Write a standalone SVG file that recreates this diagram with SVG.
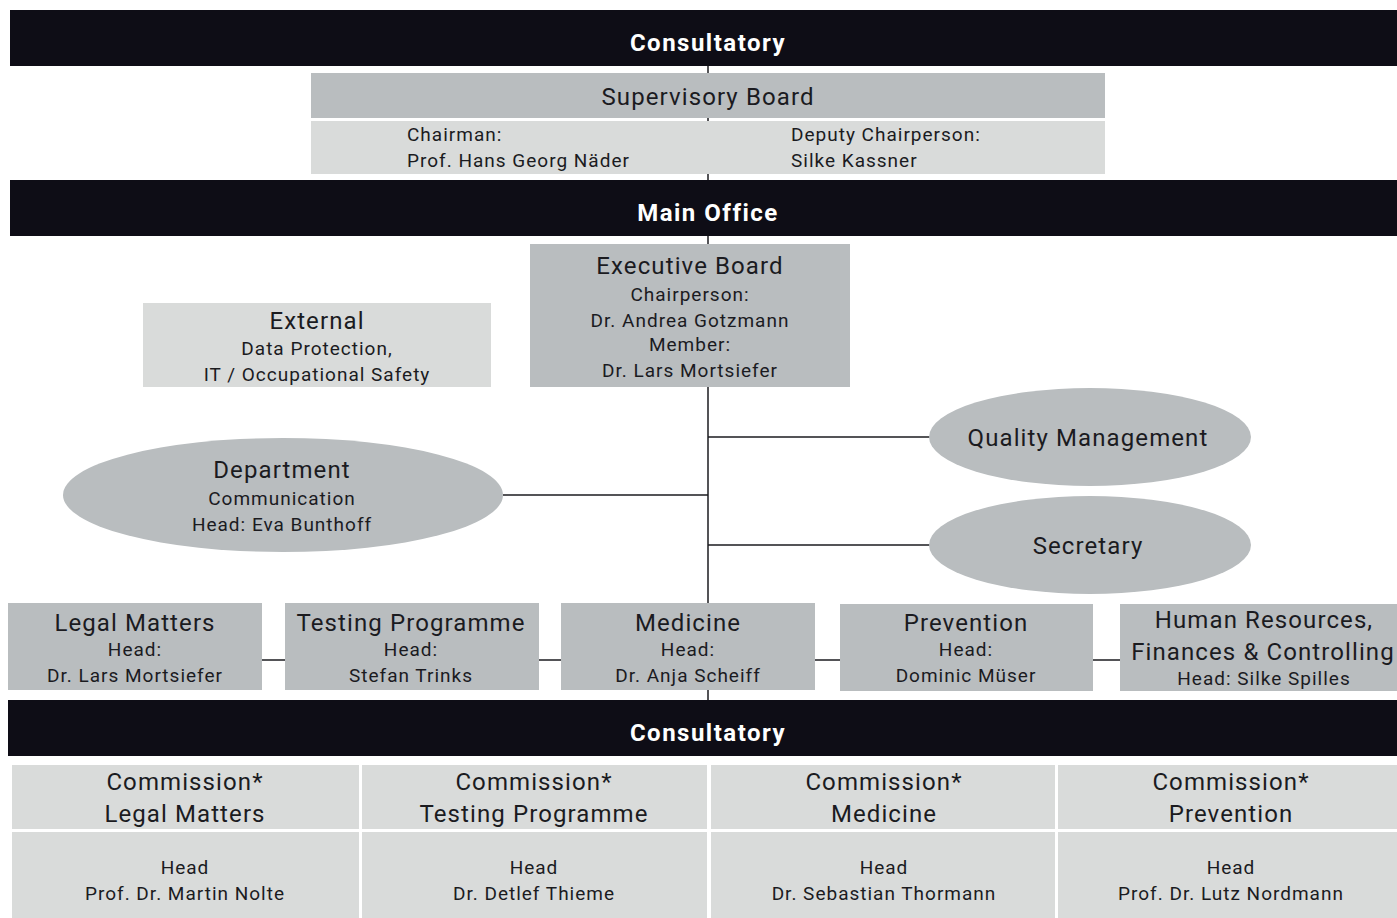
<svg xmlns="http://www.w3.org/2000/svg" width="1397" height="918" viewBox="0 0 1397 918">
<style>
text{font-family:Roboto,"Liberation Sans",sans-serif;fill:#1b1b1f;text-anchor:middle;font-weight:400}
.bar{fill:#0e0d16}
.bt{fill:#ffffff;font-weight:700;font-size:24px;letter-spacing:1.5px}
.mid{fill:#b9bdbf}
.lt{fill:#d9dbda}
.t1{font-size:24px;letter-spacing:1.1px}
.t2{font-size:19px;letter-spacing:1px}
.l{text-anchor:start}
.c{stroke:#1b1b1f;stroke-width:1.5;fill:none}
</style>
<g id="connectors">
<line class="c" x1="708" y1="66" x2="708" y2="700"/>
<line class="c" x1="503" y1="495" x2="708" y2="495"/>
<line class="c" x1="708" y1="437" x2="930" y2="437"/>
<line class="c" x1="708" y1="545" x2="930" y2="545"/>
<line class="c" x1="262" y1="660" x2="285" y2="660"/>
<line class="c" x1="539" y1="660" x2="561" y2="660"/>
<line class="c" x1="815" y1="660" x2="840" y2="660"/>
<line class="c" x1="1093" y1="660" x2="1120" y2="660"/>
</g>
<g id="bar-consultatory-top">
<rect class="bar" x="10" y="10" width="1387" height="56"/>
<text class="bt" x="708" y="51">Consultatory</text>
</g>
<g id="supervisory-board">
<rect class="mid" x="311" y="73" width="794" height="45"/>
<text class="t1" x="708" y="105">Supervisory Board</text>
<rect class="lt" x="311" y="121" width="794" height="53"/>
<text class="t2 l" x="407" y="141">Chairman:</text>
<text class="t2 l" x="407" y="167">Prof. Hans Georg Näder</text>
<text class="t2 l" x="791" y="141">Deputy Chairperson:</text>
<text class="t2 l" x="791" y="167">Silke Kassner</text>
</g>
<g id="bar-main-office">
<rect class="bar" x="10" y="180" width="1387" height="56"/>
<text class="bt" x="708" y="221">Main Office</text>
</g>
<g id="executive-board">
<rect class="mid" x="530" y="244" width="320" height="143"/>
<text class="t1" x="690" y="274">Executive Board</text>
<text class="t2" x="690" y="301">Chairperson:</text>
<text class="t2" x="690" y="327">Dr. Andrea Gotzmann</text>
<text class="t2" x="690" y="351">Member:</text>
<text class="t2" x="690" y="377">Dr. Lars Mortsiefer</text>
</g>
<g id="external">
<rect class="lt" x="143" y="303" width="348" height="84"/>
<text class="t1" x="317" y="329">External</text>
<text class="t2" x="317" y="355">Data Protection,</text>
<text class="t2" x="317" y="381">IT / Occupational Safety</text>
</g>
<g id="department-communication">
<ellipse class="mid" cx="283" cy="495" rx="220" ry="57"/>
<text class="t1" x="282" y="478">Department</text>
<text class="t2" x="282" y="505">Communication</text>
<text class="t2" x="282" y="531">Head: Eva Bunthoff</text>
</g>
<g id="quality-management">
<ellipse class="mid" cx="1090" cy="437" rx="161" ry="49"/>
<text class="t1" x="1088" y="446">Quality Management</text>
</g>
<g id="secretary">
<ellipse class="mid" cx="1090" cy="545" rx="161" ry="49"/>
<text class="t1" x="1088" y="554">Secretary</text>
</g>
<g id="legal-matters">
<rect class="mid" x="8" y="603" width="254" height="87"/>
<text class="t1" x="135" y="631">Legal Matters</text>
<text class="t2" x="135" y="656">Head:</text>
<text class="t2" x="135" y="682">Dr. Lars Mortsiefer</text>
</g>
<g id="testing-programme">
<rect class="mid" x="285" y="603" width="254" height="87"/>
<text class="t1" x="411" y="631">Testing Programme</text>
<text class="t2" x="411" y="656">Head:</text>
<text class="t2" x="411" y="682">Stefan Trinks</text>
</g>
<g id="medicine">
<rect class="mid" x="561" y="603" width="254" height="87"/>
<text class="t1" x="688" y="631">Medicine</text>
<text class="t2" x="688" y="656">Head:</text>
<text class="t2" x="688" y="682">Dr. Anja Scheiff</text>
</g>
<g id="prevention">
<rect class="mid" x="840" y="604" width="253" height="87"/>
<text class="t1" x="966" y="631">Prevention</text>
<text class="t2" x="966" y="656">Head:</text>
<text class="t2" x="966" y="682">Dominic Müser</text>
</g>
<g id="human-resources">
<rect class="mid" x="1120" y="604" width="277" height="87"/>
<text class="t1" x="1264" y="628">Human Resources,</text>
<text class="t1" x="1263" y="660">Finances &amp; Controlling</text>
<text class="t2" x="1264" y="685">Head: Silke Spilles</text>
</g>
<g id="bar-consultatory-bottom">
<rect class="bar" x="8" y="700" width="1389" height="56"/>
<text class="bt" x="708" y="741">Consultatory</text>
</g>
<g id="commission-legal">
<rect class="lt" x="12" y="765" width="347" height="64"/>
<text class="t1" x="185" y="790">Commission*</text>
<text class="t1" x="185" y="822">Legal Matters</text>
<rect class="lt" x="12" y="832" width="347" height="86"/>
<text class="t2" x="185" y="874">Head</text>
<text class="t2" x="185" y="900">Prof. Dr. Martin Nolte</text>
</g>
<g id="commission-testing">
<rect class="lt" x="362" y="765" width="345" height="64"/>
<text class="t1" x="534" y="790">Commission*</text>
<text class="t1" x="534" y="822">Testing Programme</text>
<rect class="lt" x="362" y="832" width="345" height="86"/>
<text class="t2" x="534" y="874">Head</text>
<text class="t2" x="534" y="900">Dr. Detlef Thieme</text>
</g>
<g id="commission-medicine">
<rect class="lt" x="711" y="765" width="344" height="64"/>
<text class="t1" x="884" y="790">Commission*</text>
<text class="t1" x="884" y="822">Medicine</text>
<rect class="lt" x="711" y="832" width="344" height="86"/>
<text class="t2" x="884" y="874">Head</text>
<text class="t2" x="884" y="900">Dr. Sebastian Thormann</text>
</g>
<g id="commission-prevention">
<rect class="lt" x="1058" y="765" width="339" height="64"/>
<text class="t1" x="1231" y="790">Commission*</text>
<text class="t1" x="1231" y="822">Prevention</text>
<rect class="lt" x="1058" y="832" width="339" height="86"/>
<text class="t2" x="1231" y="874">Head</text>
<text class="t2" x="1231" y="900">Prof. Dr. Lutz Nordmann</text>
</g>
</svg>
